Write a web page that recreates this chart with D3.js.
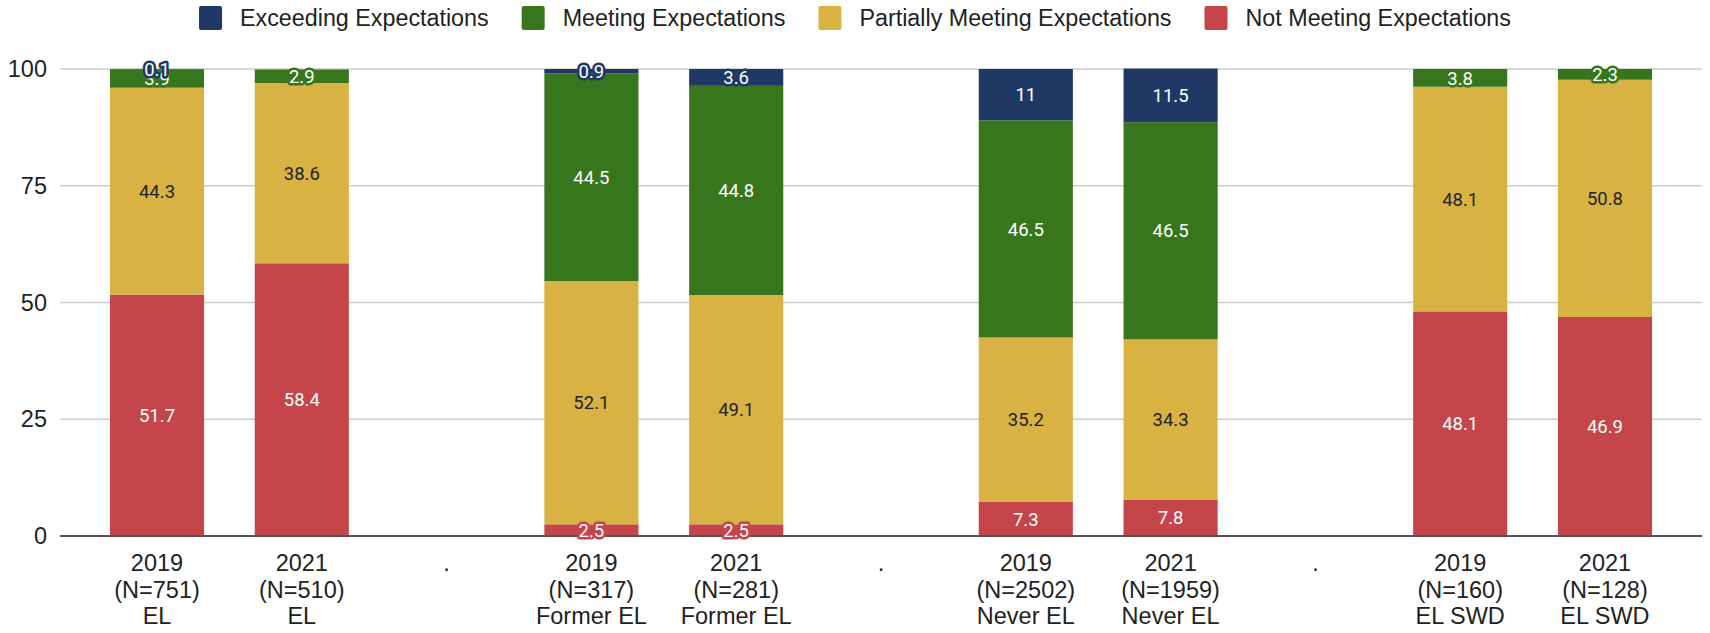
<!DOCTYPE html>
<html>
<head>
<meta charset="utf-8">
<script src="https://cdn.jsdelivr.net/npm/d3@7"></script>
<style>
  body { margin: 0; background: #fff; }
  svg { display: block; }
</style>
</head>
<body>
<svg width="1710" height="633"></svg>
<script>
// categories (spacer columns are the "." ones)
var years = ["2019", "2021", "", "2019", "2021", "", "2019", "2021", "", "2019", "2021"];
var counts = ["(N=751)", "(N=510)", "", "(N=317)", "(N=281)", "", "(N=2502)", "(N=1959)", "", "(N=160)", "(N=128)"];
var groups = ["EL", "EL", "", "Former EL", "Former EL", "", "Never EL", "Never EL", "", "EL SWD", "EL SWD"];

var seriesNames = ["Exceeding Expectations", "Meeting Expectations", "Partially Meeting Expectations", "Not Meeting Expectations"];
var colors = ["#1f3864", "#38761d", "#d8b343", "#c4454a"];

// values per column, null for spacer columns
var notMeeting = [51.7, 58.4, null, 2.5, 2.5, null, 7.3, 7.8, null, 48.1, 46.9];
var partially = [44.3, 38.6, null, 52.1, 49.1, null, 35.2, 34.3, null, 48.1, 50.8];
var meeting = [3.9, 2.9, null, 44.5, 44.8, null, 46.5, 46.5, null, 3.8, 2.3];
var exceeding = [0.1, 0, null, 0.9, 3.6, null, 11, 11.5, null, 0, 0];

var yTicks = [0, 25, 50, 75, 100];

var svg = d3.select("svg"),
    margin = { top: 69, right: 8, bottom: 97, left: 60 },
    width = +svg.attr("width"),
    height = +svg.attr("height");

var cols = d3.range(years.length);

var x = d3.scaleBand()
    .domain(cols)
    .range([margin.left, width - margin.right])
    .paddingInner(0.35)
    .paddingOuter(0.345);

var y = d3.scaleLinear()
    .domain([0, 100])
    .range([height - margin.bottom, margin.top]);

// stack bottom -> top: not, partially, meeting, exceeding
var stackOrder = [3, 2, 1, 0];
var valuesBySeries = [exceeding, meeting, partially, notMeeting];
var rows = cols.map(function (i) {
    var r = { col: i };
    seriesNames.forEach(function (s, k) { r[s] = valuesBySeries[k][i] || 0; });
    return r;
});
var stack = d3.stack().keys(stackOrder.map(function (k) { return seriesNames[k]; }));
var layers = stack(rows);

// gridlines
svg.append("g")
    .selectAll("line")
    .data(yTicks.filter(function (t) { return t > 0; }))
    .enter().append("line")
    .attr("x1", margin.left).attr("x2", width - margin.right)
    .attr("y1", function (d) { return y(d); }).attr("y2", function (d) { return y(d); })
    .attr("stroke", "#cccccc").attr("stroke-width", 1.5);

// y tick labels
svg.append("g")
    .selectAll("text")
    .data(yTicks)
    .enter().append("text")
    .attr("x", 47)
    .attr("y", function (d) { return y(d); })
    .attr("dy", "0.35em")
    .attr("text-anchor", "end")
    .style("font-family", "'Liberation Sans', Arial, sans-serif")
    .style("font-size", "23.5px")
    .attr("fill", "#222")
    .text(function (d) { return d; });

// bars
var layerG = svg.append("g")
    .selectAll("g")
    .data(layers)
    .enter().append("g")
    .attr("fill", function (d) { return colors[seriesNames.indexOf(d.key)]; });

layerG.selectAll("rect")
    .data(function (d) { return d.filter(function (p) { return p[1] - p[0] > 0; }); })
    .enter().append("rect")
    .attr("x", function (d) { return x(d.data.col); })
    .attr("y", function (d) { return y(d[1]); })
    .attr("width", x.bandwidth())
    .attr("height", function (d) { return y(d[0]) - y(d[1]); });

// zero line
svg.append("line")
    .attr("x1", margin.left).attr("x2", width - margin.right)
    .attr("y1", y(0)).attr("y2", y(0))
    .attr("stroke", "#555").attr("stroke-width", 2);

// data labels with halo in bar colour
layers.forEach(function (layer) {
    var k = seriesNames.indexOf(layer.key);
    var c = colors[k];
    svg.append("g")
        .selectAll("text")
        .data(layer.filter(function (p) { return p[1] - p[0] > 0; }))
        .enter().append("text")
        .attr("x", function (d) { return x(d.data.col) + x.bandwidth() / 2; })
        .attr("y", function (d) { return y((d[0] + d[1]) / 2); })
        .attr("dy", "0.36em")
        .attr("text-anchor", "middle")
        .style("font-family", "Roboto, sans-serif")
        .style("font-size", "18.5px")
        .style("paint-order", "stroke")
        .attr("stroke", c)
        .attr("stroke-width", 5)
        .attr("stroke-linejoin", "round")
        .attr("fill", k === 2 ? "#222" : "#fff")
        .text(function (d) { return d.data[layer.key]; });
});

// x labels
var xl = svg.append("g")
    .selectAll("text")
    .data(cols)
    .enter().append("text")
    .attr("text-anchor", "middle")
    .attr("x", function (i) { return x(i) + x.bandwidth() / 2; })
    .attr("y", y(0) + 35)
    .style("font-family", "'Liberation Sans', Arial, sans-serif")
    .style("font-size", "23.5px")
    .attr("fill", "#222");

xl.each(function (i) {
    var t = d3.select(this);
    if (years[i] === "") {
        t.text(".");
        return;
    }
    [years[i], counts[i], groups[i]].forEach(function (s, j) {
        t.append("tspan").attr("x", x(i) + x.bandwidth() / 2).attr("dy", j === 0 ? 0 : 26.5).text(s);
    });
});

// legend
var legend = svg.append("g");
var lx = 0;
seriesNames.forEach(function (s, k) {
    var item = legend.append("g").attr("transform", "translate(" + lx + ",0)");
    item.append("rect")
        .attr("x", 0).attr("y", 6)
        .attr("width", 23).attr("height", 24)
        .attr("rx", 2)
        .attr("fill", colors[k]);
    var t = item.append("text")
        .attr("x", 41).attr("y", 18)
        .attr("dy", "0.35em")
        .style("font-family", "'Liberation Sans', Arial, sans-serif")
        .style("font-size", "23.3px")
        .attr("fill", "#222")
        .text(s);
    lx += 41 + t.node().getComputedTextLength() + 33;
});
var lw = lx - 33;
legend.attr("transform", "translate(" + ((width - lw) / 2) + ",0)");
</script>
</body>
</html>
